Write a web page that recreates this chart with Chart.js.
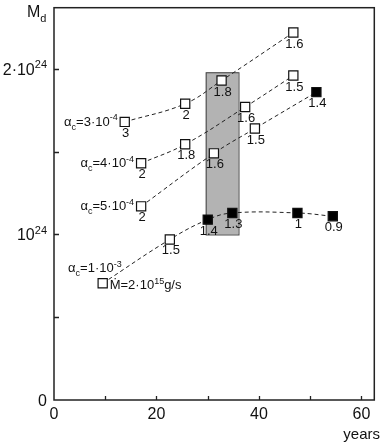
<!DOCTYPE html>
<html>
<head>
<meta charset="utf-8">
<script src="https://cdn.jsdelivr.net/npm/chart.js@4.4.0/dist/chart.umd.min.js"></script>
<style>
  html, body { margin: 0; padding: 0; background: #fff; }
  #wrap { width: 382px; height: 443px; }
</style>
</head>
<body>
<div id="wrap"><canvas id="chart" width="382" height="443"></canvas></div>
<script>
// disk mass M_d in units of 1e24 g, time in years
const xTicks = [0, 20, 40, 60];
const xMinorTicks = [10, 30, 50];
const yTicks = [0, 1, 2];
const yTickLabels = [[['0', '']], [['10', ''], ['24', 'sup']], [['2·10', ''], ['24', 'sup']]];
const yMinorTicks = [0.5, 1.5];

const years3 = [13.8, 25.6, 32.7, 46.7];
const mass3 = [1.68, 1.79, 1.93, 2.22];
const labels3 = ['3', '2', '1.8', '1.6'];

const years4 = [17.0, 25.6, 37.3, 46.7];
const mass4 = [1.43, 1.545, 1.77, 1.96];
const labels4 = ['2', '1.8', '1.6', '1.5'];

const years5 = [17.0, 31.2, 39.2, 51.2];
const mass5 = [1.17, 1.49, 1.64, 1.86];
const labels5 = ['2', '1.6', '1.5', '1.4'];
const filled5 = [false, false, false, true];

const years10 = [9.5, 22.6, 30.0, 34.8, 47.5, 54.4];
const mass10 = [0.705, 0.97, 1.09, 1.13, 1.13, 1.11];
const labels10 = ['', '1.5', '1.4', '1.3', '1', '0.9'];
const filled10 = [false, false, true, true, true, true];

// shaded band
const bandYears = [29.6, 36.0];
const bandMass = [1.0, 1.98];

const FONT = '"Liberation Sans", Arial, Helvetica, sans-serif';

function toPoints(xs, ys) {
    return xs.map((x, i) => ({ x: x, y: ys[i] }));
}

function series(xs, ys, filled) {
    return {
        data: toPoints(xs, ys),
        showLine: true,
        borderColor: '#222',
        borderWidth: 1,
        borderDash: [4, 3],
        tension: 0.4,
        pointStyle: 'rect',
        pointRadius: 6.5,
        pointBorderWidth: 1.2,
        pointBorderColor: '#111',
        pointBackgroundColor: xs.map((_, i) => (filled && filled[i]) ? '#000' : '#fff')
    };
}

// draw text made of normal / sub / sup pieces
function richText(ctx, parts, x, y, size, align) {
    const small = Math.round(size * 0.68);
    let width = 0;
    parts.forEach(p => {
        ctx.font = (p[1] ? small : size) + 'px ' + FONT;
        width += ctx.measureText(p[0]).width;
    });
    let cx = align === 'right' ? x - width : (align === 'center' ? x - width / 2 : x);
    ctx.textAlign = 'left';
    ctx.textBaseline = 'alphabetic';
    parts.forEach(p => {
        let dy = 0;
        if (p[1] === 'sub') dy = size * 0.3;
        if (p[1] === 'sup') dy = -size * 0.42;
        ctx.font = (p[1] ? small : size) + 'px ' + FONT;
        ctx.fillText(p[0], cx, y + dy);
        cx += ctx.measureText(p[0]).width;
    });
}

const bandPlugin = {
    id: 'band',
    beforeDatasetsDraw(chart) {
        const ctx = chart.ctx;
        const xs = chart.scales.x, ys = chart.scales.y;
        const x0 = xs.getPixelForValue(bandYears[0]), x1 = xs.getPixelForValue(bandYears[1]);
        const y0 = ys.getPixelForValue(bandMass[1]), y1 = ys.getPixelForValue(bandMass[0]);
        ctx.save();
        ctx.fillStyle = '#b3b3b3';
        ctx.fillRect(x0, y0, x1 - x0, y1 - y0);
        ctx.strokeStyle = '#444';
        ctx.lineWidth = 1;
        ctx.strokeRect(x0 + 0.5, y0 + 0.5, x1 - x0, y1 - y0);
        ctx.restore();
    }
};

const decorPlugin = {
    id: 'decor',
    afterDraw(chart) {
        const ctx = chart.ctx;
        const xs = chart.scales.x, ys = chart.scales.y;
        const a = chart.chartArea;
        ctx.save();
        ctx.fillStyle = '#111';
        ctx.strokeStyle = '#222';

        // frame
        ctx.lineWidth = 1.5;
        ctx.strokeRect(a.left, a.top, a.right - a.left, a.bottom - a.top);

        // inward ticks
        ctx.lineWidth = 1.3;
        ctx.beginPath();
        xTicks.concat(xMinorTicks).forEach(v => {
            const px = Math.round(xs.getPixelForValue(v)) + 0.5;
            if (v === 0) return;
            ctx.moveTo(px, a.bottom);
            ctx.lineTo(px, a.bottom - 4);
        });
        yTicks.concat(yMinorTicks).forEach(v => {
            const py = Math.round(ys.getPixelForValue(v)) + 0.5;
            if (v === 0) return;
            ctx.moveTo(a.left, py);
            ctx.lineTo(a.left + 5, py);
        });
        ctx.stroke();

        // x tick labels
        xTicks.forEach(v => {
            richText(ctx, [[String(v), '']], xs.getPixelForValue(v), a.bottom + 19, 16, 'center');
        });
        // y tick labels
        yTicks.forEach((v, i) => {
            richText(ctx, yTickLabels[i], a.left - 7, ys.getPixelForValue(v) + 6, 16, 'right');
        });

        // axis titles
        richText(ctx, [['M', ''], ['d', 'sub']], 27, 17, 16, 'left');
        richText(ctx, [['years', '']], 380, 439, 15, 'right');

        // numbers under points
        const groups = [[years3, mass3, labels3], [years4, mass4, labels4], [years5, mass5, labels5], [years10, mass10, labels10]];
        groups.forEach(g => {
            g[0].forEach((x, i) => {
                if (!g[2][i]) return;
                const px = xs.getPixelForValue(x), py = ys.getPixelForValue(g[1][i]);
                richText(ctx, [[g[2][i], '']], px + 1, py + 15, 13, 'center');
            });
        });

        // series labels
        const first = (xArr, yArr) => ({ x: xs.getPixelForValue(xArr[0]), y: ys.getPixelForValue(yArr[0]) });
        let p = first(years3, mass3);
        richText(ctx, [['α', ''], ['c', 'sub'], ['=3·10', ''], ['-4', 'sup']], p.x - 7, p.y + 4, 13, 'right');
        p = first(years4, mass4);
        richText(ctx, [['α', ''], ['c', 'sub'], ['=4·10', ''], ['-4', 'sup']], p.x - 7, p.y + 4, 13, 'right');
        p = first(years5, mass5);
        richText(ctx, [['α', ''], ['c', 'sub'], ['=5·10', ''], ['-4', 'sup']], p.x - 7, p.y + 4, 13, 'right');
        p = first(years10, mass10);
        richText(ctx, [['α', ''], ['c', 'sub'], ['=1·10', ''], ['-3', 'sup']], p.x + 19, p.y - 11, 13, 'right');
        richText(ctx, [['Ṁ=2·10', ''], ['15', 'sup'], ['g/s', '']], p.x + 7, p.y + 6, 13, 'left');

        ctx.restore();
    }
};

new Chart(document.getElementById('chart'), {
    type: 'scatter',
    data: {
        datasets: [
            series(years3, mass3),
            series(years4, mass4),
            series(years5, mass5, filled5),
            series(years10, mass10, filled10)
        ]
    },
    options: {
        responsive: false,
        animation: false,
        layout: { padding: { left: 54, top: 4, right: 3, bottom: 43 } },
        plugins: { legend: { display: false }, tooltip: { enabled: false } },
        scales: {
            x: { type: 'linear', min: 0, max: 62.5, display: false },
            y: { type: 'linear', min: 0, max: 2.37, display: false }
        }
    },
    plugins: [bandPlugin, decorPlugin]
});
</script>
</body>
</html>
